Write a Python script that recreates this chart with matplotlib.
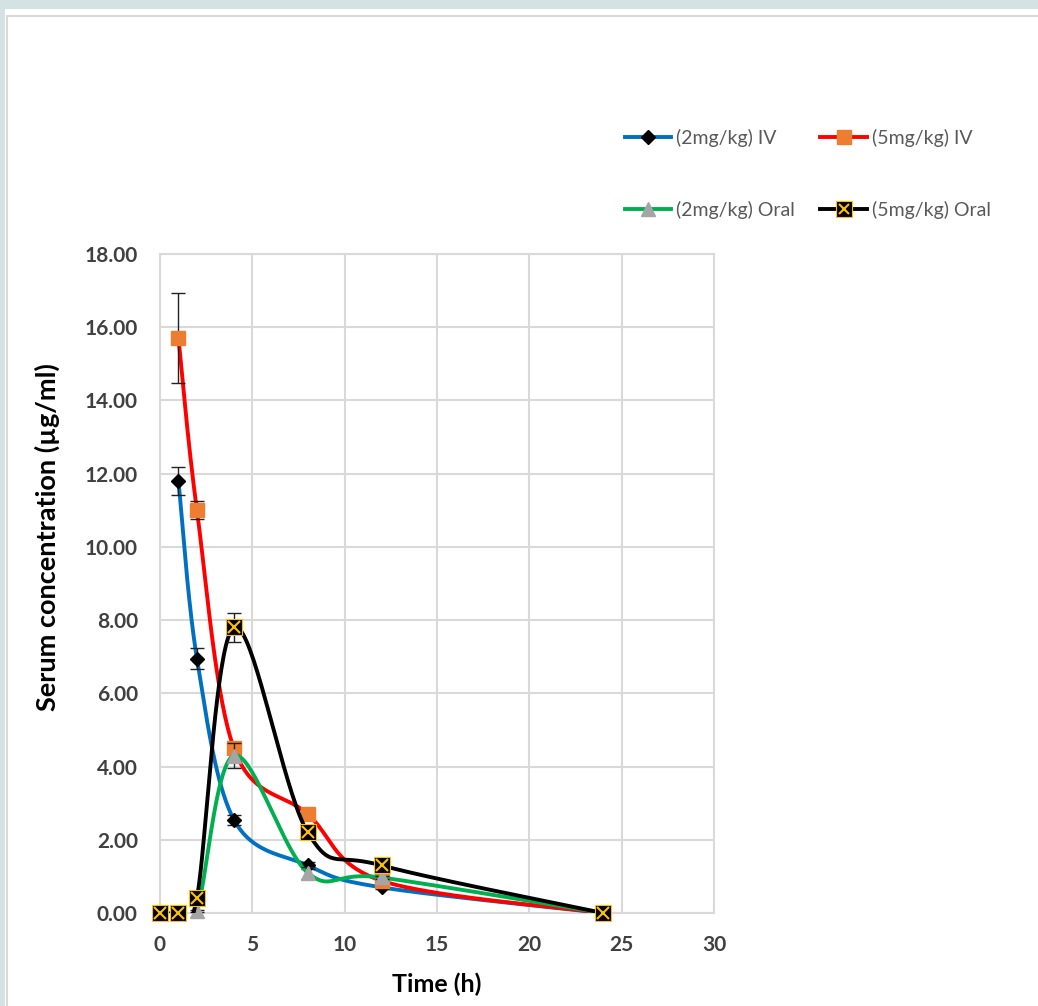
import numpy as np
import matplotlib.pyplot as plt
from matplotlib.legend_handler import HandlerTuple

# data
t_iv = [1, 2, 4, 8, 12, 24]
t_oral = [0, 1, 2, 4, 8, 12, 24]

iv2 = [11.8, 6.95, 2.55, 1.3, 0.7, 0.0]
iv2_err = [0.37, 0.28, 0.14, 0.1, 0.05, 0.0]
iv5 = [15.7, 11.0, 4.5, 2.7, 0.88, 0.0]
iv5_err = [1.23, 0.25, 0.15, 0.1, 0.05, 0.0]
oral2 = [0.0, 0.0, 0.05, 4.3, 1.1, 0.97, 0.0]
oral2_err = [0.0, 0.0, 0.02, 0.35, 0.17, 0.05, 0.0]
oral5 = [0.0, 0.0, 0.42, 7.8, 2.2, 1.3, 0.0]
oral5_err = [0.0, 0.0, 0.05, 0.4, 0.15, 0.05, 0.0]

labels = ['(2mg/kg) IV', '(5mg/kg) IV', '(2mg/kg) Oral', '(5mg/kg) Oral']
xticks = [0, 5, 10, 15, 20, 25, 30]
yticks = np.arange(0, 18.01, 2)


def smooth(x, y, n=40):
    # Excel-style smoothed line (Catmull-Rom through bezier segments)
    x = np.asarray(x, float)
    y = np.asarray(y, float)
    px = np.concatenate([[x[0]], x, [x[-1]]])
    py = np.concatenate([[y[0]], y, [y[-1]]])
    xs, ys = [], []
    s = np.linspace(0, 1, n)
    for i in range(1, len(px) - 2):
        p0 = np.array([px[i], py[i]])
        p3 = np.array([px[i + 1], py[i + 1]])
        c1 = p0 + (np.array([px[i + 1], py[i + 1]]) - np.array([px[i - 1], py[i - 1]])) / 6
        c2 = p3 - (np.array([px[i + 2], py[i + 2]]) - np.array([px[i], py[i]])) / 6
        b = ((1 - s) ** 3)[:, None] * p0 + (3 * (1 - s) ** 2 * s)[:, None] * c1 \
            + (3 * (1 - s) * s ** 2)[:, None] * c2 + (s ** 3)[:, None] * p3
        xs.append(b[:, 0])
        ys.append(b[:, 1])
    return np.concatenate(xs), np.concatenate(ys)


plt.rcParams['font.family'] = ['Lato', 'DejaVu Sans']

W, H = 1038, 1006
fig = plt.figure(figsize=(W / 100, H / 100), dpi=100)
fig.patch.set_facecolor('#d3e3e3')
# white panel with light border
fig.add_artist(plt.Rectangle((5 / W, 0), 1, 1 - 9 / H, transform=fig.transFigure,
                             facecolor='white', edgecolor='none', zorder=0))
fig.add_artist(plt.Rectangle((7 / W, -0.01), 1, 1 - 16 / H + 0.01, transform=fig.transFigure,
                             facecolor='white', edgecolor='#d9d9d9', lw=1.5, zorder=0))

ax = fig.add_axes([160 / W, 93 / H, 554 / W, 659 / H])
ax.set_facecolor('white')

series = [
    (t_iv, iv2, iv2_err, '#0070C0', dict(marker='D', ms=7, mfc='black', mec='black')),
    (t_iv, iv5, iv5_err, '#FF0000', dict(marker='s', ms=10, mfc='#ED7D31', mec='#ED7D31')),
    (t_oral, oral2, oral2_err, '#00B050', dict(marker='^', ms=10, mfc='#A5A5A5', mec='#A5A5A5')),
    (t_oral, oral5, oral5_err, 'black', dict(marker='s', ms=11, mfc='black', mec='#FFC000', mew=0.8)),
]

handles = []
for i, (t, v, e, col, mk) in enumerate(series):
    sx, sy = smooth(t, v)
    z = 3 + i
    ax.plot(sx, sy, color=col, lw=2.8, zorder=z, solid_capstyle='round')
    ax.errorbar(t, v, yerr=e, fmt='none', ecolor='#222222', elinewidth=1, capsize=5,
                capthick=1, zorder=z + 0.2)
    ax.plot(t, v, ls='none', zorder=z + 0.3, clip_on=False, **mk)
    h = ax.plot([], [], color=col, lw=2.8, **mk)[0]
    if i == 3:
        ax.plot(t, v, ls='none', marker='x', ms=8, mew=1.5, color='#FFC000',
                zorder=z + 0.4, clip_on=False)
        hx = ax.plot([], [], ls='none', marker='x', ms=7, mew=1.5, color='#FFC000')[0]
        handles.append((h, hx))
    else:
        handles.append(h)

ax.set_xlim(0, 30)
ax.set_ylim(0, 18)
ax.set_xticks(xticks)
ax.set_yticks(yticks)
ax.set_yticklabels([f'{v:.2f}' for v in yticks])
ax.grid(True, color='#d9d9d9', lw=1.5)
ax.set_axisbelow(True)
for sp in ax.spines.values():
    sp.set_color('#d9d9d9')
    sp.set_linewidth(1.5)
ax.tick_params(length=0, labelsize=15, labelcolor='#404040', pad=16)
for lab in ax.get_xticklabels() + ax.get_yticklabels():
    lab.set_fontweight('bold')
ax.set_xlabel('Time (h)', fontsize=18, fontweight='bold')
ax.set_ylabel('Serum concentration (µg/ml)', fontsize=19.5, fontweight='bold')
ax.xaxis.set_label_coords(0.5, -(984 - 913) / 659, transform=ax.transAxes)
ax.xaxis.label.set_va('center')
ax.yaxis.set_label_coords(-(160 - 47) / 554, (913 - 537) / 659, transform=ax.transAxes)
ax.yaxis.label.set_va('center')

# legend: column-wise fill -> IV row on top, Oral row below
order = [0, 2, 1, 3]
leg = fig.legend([handles[k] for k in order], [labels[k] for k in order], ncol=2,
                 loc='upper left', bbox_to_anchor=(607 / W, 1 - 111 / H),
                 frameon=False, fontsize=14, labelspacing=2.8, handlelength=2.4,
                 handletextpad=0.25, columnspacing=1.3,
                 handler_map={tuple: HandlerTuple(ndivide=1)})
for txt in leg.get_texts():
    txt.set_color('#595959')

fig.savefig('out.png', dpi=100, facecolor=fig.get_facecolor())
